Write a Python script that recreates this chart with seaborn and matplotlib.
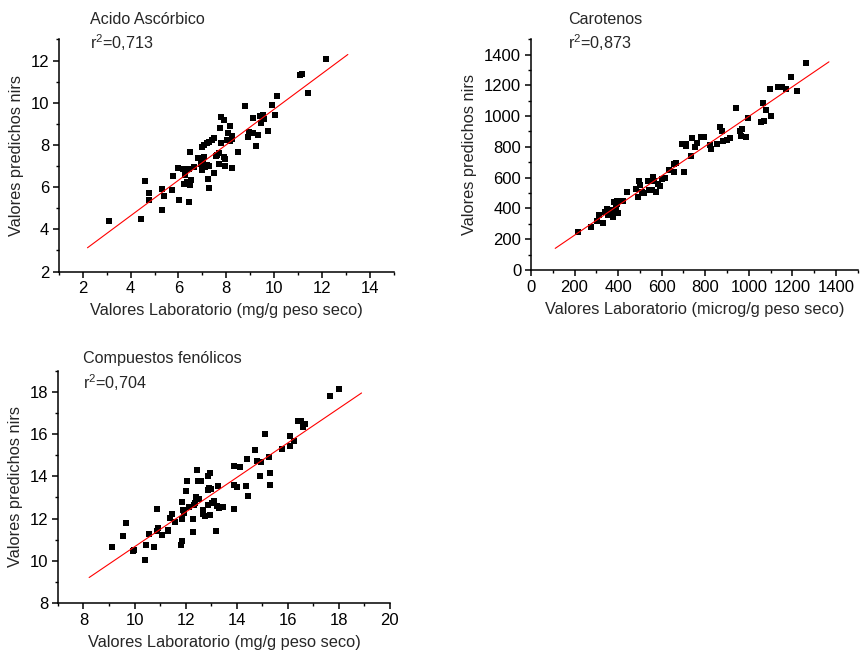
import numpy as np
import pandas as pd
import seaborn as sns
import matplotlib.pyplot as plt

# Acido ascorbico (mg/g peso seco)
asc_lab = [3.10, 4.45, 4.59, 4.76, 4.76, 5.31, 5.33, 5.38, 5.73, 5.78, 6.02, 5.99, 6.19, 6.29,
           6.44, 6.29, 6.22, 6.35, 6.44, 6.50, 6.54, 6.49, 6.67, 6.80, 6.94, 6.97, 7.02, 7.08,
           7.13, 7.19, 7.27, 7.25, 7.29, 6.98, 7.08, 7.19, 7.29, 7.39, 7.47, 7.48, 7.55, 7.63,
           7.70, 7.70, 7.72, 7.78, 7.91, 7.79, 7.92, 7.96, 7.94, 8.02, 8.09, 8.17, 8.16, 8.23,
           8.26, 8.23, 8.48, 8.78, 8.89, 8.95, 9.12, 9.12, 9.23, 9.34, 9.43, 9.53, 9.47, 9.58,
           9.74, 9.93, 10.06, 10.13, 11.09, 11.18, 11.44, 12.18]
asc_nirs = [4.38, 4.49, 6.29, 5.73, 5.38, 4.92, 5.89, 5.60, 5.87, 6.52, 5.40, 6.92, 6.86, 6.84,
            6.84, 6.57, 6.17, 6.25, 5.30, 6.08, 6.33, 7.67, 6.95, 7.40, 7.11, 6.79, 7.27, 7.43,
            6.97, 7.05, 7.00, 6.40, 5.97, 7.90, 8.00, 8.08, 8.16, 8.24, 8.32, 6.68, 7.48, 7.52,
            7.11, 7.60, 8.78, 9.33, 9.17, 8.11, 7.43, 7.35, 6.98, 8.22, 8.56, 8.90, 8.19, 8.43,
            8.30, 6.90, 7.68, 9.86, 8.38, 8.63, 8.59, 9.29, 7.95, 8.48, 9.38, 9.44, 9.06, 9.21,
            8.65, 9.89, 9.41, 10.30, 11.30, 11.35, 10.44, 12.08]

# Carotenos (microg/g peso seco)
car_lab = [216, 276, 303, 314, 329, 341, 350, 353, 363, 374, 378, 386, 382, 394, 397, 400, 391,
           424, 439, 482, 493, 494, 502, 509, 520, 536, 544, 554, 560, 566, 575, 581, 590, 602,
           613, 635, 656, 655, 665, 701, 694, 710, 713, 733, 739, 755, 761, 781, 796, 822, 826,
           853, 867, 876, 883, 900, 915, 942, 960, 963, 970, 987, 996, 1054, 1069, 1066, 1080,
           1102, 1099, 1132, 1152, 1170, 1194, 1223, 1263]
car_nirs = [249, 281, 316, 359, 303, 377, 394, 359, 390, 368, 342, 390, 439, 448, 426, 368, 400,
            448, 509, 526, 476, 578, 552, 509, 498, 580, 519, 519, 602, 580, 509, 558, 545, 589,
            595, 649, 638, 688, 692, 634, 818, 816, 807, 742, 855, 801, 822, 866, 863, 811, 783,
            818, 926, 905, 840, 844, 859, 1050, 905, 872, 913, 866, 985, 963, 967, 1088, 1039,
            1002, 1177, 1186, 1186, 1177, 1255, 1164, 1346]

# Compuestos fenolicos (mg/g peso seco)
fen_lab = [9.11, 9.53, 9.68, 9.94, 9.97, 10.40, 10.43, 10.57, 10.75, 10.87, 10.87, 10.92, 11.07,
           11.32, 11.32, 11.40, 11.48, 11.57, 11.80, 11.86, 11.84, 11.84, 11.88, 11.93, 12.00,
           12.04, 12.12, 12.29, 12.30, 12.31, 12.35, 12.39, 12.45, 12.50, 12.52, 12.60, 12.67,
           12.68, 12.76, 12.87, 12.89, 12.93, 12.94, 12.97, 12.98, 12.88, 13.05, 13.13, 13.21,
           13.18, 13.25, 13.31, 13.47, 13.90, 13.90, 13.90, 14.03, 14.13, 14.37, 14.39, 14.45,
           14.73, 14.79, 14.94, 14.92, 15.11, 15.28, 15.29, 15.29, 15.78, 16.07, 16.09, 16.25,
           16.41, 16.50, 16.58, 16.66, 17.64, 18.00]
fen_nirs = [10.65, 11.16, 11.79, 10.48, 10.53, 10.05, 10.76, 11.27, 10.67, 12.45, 11.40, 11.55,
            11.24, 11.48, 11.40, 12.03, 12.23, 11.82, 10.76, 10.92, 11.98, 12.79, 12.42, 12.27,
            13.29, 13.77, 12.55, 11.36, 12.00, 12.63, 12.74, 13.02, 14.32, 13.77, 12.93, 13.77,
            12.42, 12.23, 12.14, 13.37, 14.03, 13.45, 12.15, 14.16, 13.40, 12.66, 12.74, 12.82,
            12.58, 11.40, 13.53, 12.50, 12.55, 14.48, 12.45, 13.58, 13.48, 14.43, 13.53, 14.82,
            13.09, 15.27, 14.71, 14.68, 14.00, 16.01, 14.90, 14.16, 13.61, 15.31, 15.90, 15.46,
            15.66, 16.64, 16.64, 16.34, 16.48, 17.79, 18.14]

sns.set_style("ticks")
plt.rcParams['font.family'] = ['Liberation Sans', 'DejaVu Sans']
plt.rcParams['mathtext.fontset'] = 'custom'
plt.rcParams['mathtext.rm'] = 'Liberation Sans'
plt.rcParams['mathtext.default'] = 'regular'
plt.rcParams['axes.linewidth'] = 1.1
plt.rcParams['xtick.major.size'] = 4
plt.rcParams['ytick.major.size'] = 4
plt.rcParams['xtick.minor.size'] = 2.5
plt.rcParams['ytick.minor.size'] = 2.5
plt.rcParams['xtick.color'] = 'black'
plt.rcParams['ytick.color'] = 'black'
plt.rcParams['axes.edgecolor'] = 'black'

fig = plt.figure(figsize=(8.6, 6.52), dpi=100)

panels = [
    dict(x=asc_lab, y=asc_nirs, pos=[0.0686, 0.5835, 0.389, 0.356], xlim=(1, 15), ylim=(2, 13),
         step=2, minor=1, xlabel='Valores Laboratorio (mg/g peso seco)',
         title='Acido Ascórbico', r2='r$^2$=0,713', tx=90, ty=(19, 43)),
    dict(x=car_lab, y=car_nirs, pos=[0.6174, 0.586, 0.38, 0.354], xlim=(0, 1500), ylim=(0, 1500),
         step=200, minor=100, xlabel='Valores Laboratorio (microg/g peso seco)',
         title='Carotenos', r2='r$^2$=0,873', tx=568, ty=(19, 43)),
    dict(x=fen_lab, y=fen_nirs, pos=[0.0674, 0.0752, 0.386, 0.356], xlim=(7, 20), ylim=(8, 19),
         step=2, minor=1, xlabel='Valores Laboratorio (mg/g peso seco)',
         title='Compuestos fenólicos', r2='r$^2$=0,704', tx=83, ty=(359, 383)),
]

for p in panels:
    ax = fig.add_axes(p['pos'])
    df = pd.DataFrame({'lab': p['x'], 'nirs': p['y']})
    sns.scatterplot(data=df, x='lab', y='nirs', marker='s', color='black', s=22,
                    linewidth=0, ax=ax)
    # linear fit drawn over the data range extended by 10% each side
    k, b = np.polyfit(df['lab'], df['nirs'], 1)
    lo, hi = df['lab'].min(), df['lab'].max()
    ext = 0.1 * (hi - lo)
    xs = np.array([lo - ext, hi + ext])
    ax.plot(xs, k * xs + b, color='red', lw=0.8)

    ax.set_xlim(p['xlim'])
    ax.set_ylim(p['ylim'])
    first_x = p['xlim'][0] + (p['xlim'][0] % p['step'])
    ax.set_xticks(np.arange(first_x, p['xlim'][1] + 1e-9, p['step']))
    ax.set_xticks(np.arange(p['xlim'][0], p['xlim'][1] + 1e-9, p['minor']), minor=True)
    ax.set_yticks(np.arange(p['ylim'][0], p['ylim'][1] + 1e-9, p['step']))
    ax.set_yticks(np.arange(p['ylim'][0], p['ylim'][1] + 1e-9, p['minor']), minor=True)
    ax.set_xticklabels([f'{v:g}' for v in ax.get_xticks()])
    ax.set_yticklabels([f'{v:g}' for v in ax.get_yticks()])
    ax.tick_params(labelsize=12, width=1.1, pad=3)
    ax.tick_params(which='minor', width=1.0)
    ax.set_xlabel(p['xlabel'], fontsize=11.8, labelpad=5)
    ax.set_ylabel('Valores predichos nirs', fontsize=11.8, labelpad=5)
    sns.despine(ax=ax)

    fig.text(p['tx'] / 860, 1 - p['ty'][0] / 652, p['title'], fontsize=11.6, va='center')
    fig.text(p['tx'] / 860, 1 - p['ty'][1] / 652, p['r2'], fontsize=11.6, va='center')

fig.savefig('out.png', dpi=100)
